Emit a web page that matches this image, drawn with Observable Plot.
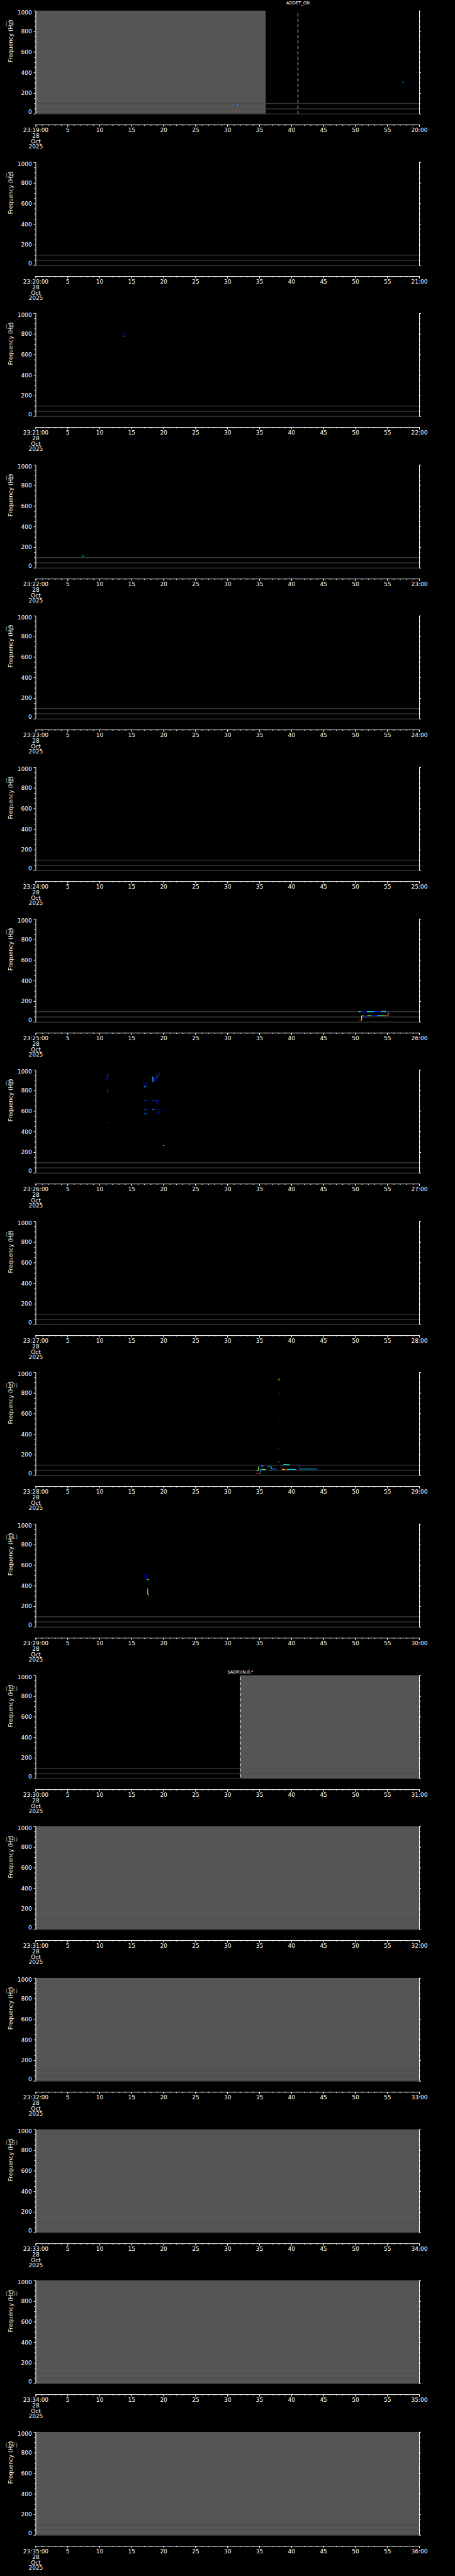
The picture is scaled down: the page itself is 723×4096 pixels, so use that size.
<!DOCTYPE html>
<html><head><meta charset="utf-8">
<script src="https://cdn.jsdelivr.net/npm/d3@7"></script>
<script src="https://cdn.jsdelivr.net/npm/@observablehq/plot@0.6"></script>
<style>
html,body{margin:0;padding:0;background:#000;}
#chart{width:723px;}
#chart svg{display:block;}
</style></head><body><div id="chart"></div>
<script>
// ---------- data ----------
const startLabels = ["23:19:00","23:20:00","23:21:00","23:22:00","23:23:00","23:24:00","23:25:00","23:26:00","23:27:00","23:28:00","23:29:00","23:30:00","23:31:00","23:32:00","23:33:00","23:34:00","23:35:00"];
const endLabels = ["20:00","21:00","22:00","23:00","24:00","25:00","26:00","27:00","28:00","29:00","30:00","31:00","32:00","33:00","34:00","35:00","36:00"];
const secTicks = [5,10,15,20,25,30,35,40,45,50,55];
const secTickLabels = ["5","10","15","20","25","30","35","40","45","50","55"];
const dateLines = ["28","Oct","2025"];
const freqTicks = [0,200,400,600,800,1000];
const freqTickLabels = ["0","200","400","600","800","1000"];
const freqMinor = [50,100,150,250,300,350,450,500,550,650,700,750,850,900,950];
const refLines = [0,50,100];
const shaded = [
  {panel:1, t1:0, t2:36},
  {panel:12, t1:32, t2:60},
  {panel:13, t1:0, t2:60},
  {panel:14, t1:0, t2:60},
  {panel:15, t1:0, t2:60},
  {panel:16, t1:0, t2:60},
  {panel:17, t1:0, t2:60}
];
const events = [
  {panel:1, t:41, label:"ADDET_ON"},
  {panel:12, t:32, label:"$ADRUN,0,*"}
];
// trace segments: [t1 (s), f1 (Hz), t2 (s), f2 (Hz), intensity 0..1]
const trace1 = [
  [31.2,95,32.0,95,0.15],[31.45,95,31.75,95,0.4],
  [57.3,311,57.5,311,0.4],[57.45,311,57.65,290,0.15]
];
const trace3 = [
  [13.6,776,13.8,776,0.3],[13.8,776,13.8,813,0.15]
];
const trace4 = [
  [7.2,116,7.5,116,0.33],[7.33,116,7.33,110,0.33]
];
const trace7 = [
  [50.45,101,50.8,101,0.4],[50.8,99,51.8,101,0.13],[51.8,101,52.95,100,0.4],
  [52.95,101,54.0,102,0.15],[54.0,103,54.71,106,0.42],[54.71,106,54.71,94,0.4],
  [54.71,94,55.4,94,0.13],
  [50.5,16,50.96,16,0.92],[50.96,16,50.96,61,0.62],[50.96,61,51.35,61,0.55],
  [51.35,57,51.82,55,0.15],[51.82,63,52.51,63,0.5],[52.51,63,53.44,63,0.15],
  [53.44,63,54.48,63,0.45],[54.48,63,54.82,63,0.75],[54.82,61,55.05,61,0.4],
  [55.12,63,55.12,94,0.72]
];
const trace8 = [
  [11.17,941,11.1,906,0.15],[11.2,953,11.35,953,0.4],
  [11.27,841,11.27,787,0.15],[11.1,795,11.27,787,0.2],
  [11.1,491,11.38,491,0.15],
  [16.91,884,16.91,838,0.1],[16.91,838,17.23,838,0.35],[17.23,838,17.23,867,0.15],[17.23,867,17.4,867,0.15],
  [18.14,930,18.32,930,0.45],[18.32,930,18.32,884,0.4],
  [18.5,927,18.5,889,0.12],[18.6,922,18.6,889,0.12],[18.78,927,18.78,889,0.12],
  [18.78,927,19.01,927,0.2],[19.01,927,19.01,966,0.2],
  [19.32,946,19.32,977,0.15],[19.32,977,19.5,977,0.15],
  [16.91,702,17.4,702,0.2],[18.18,702,18.92,702,0.2],[18.92,702,18.92,675,0.12],
  [18.92,675,19.01,675,0.12],[19.01,675,19.01,702,0.12],[19.01,702,19.5,702,0.15],
  [16.91,620,17.4,620,0.25],[16.91,577,17.4,577,0.2],
  [18.18,616,18.5,620,0.35],[18.5,620,19.01,620,0.15],[19.01,620,19.01,577,0.12],
  [19.01,577,19.38,577,0.12],[19.38,577,19.38,616,0.12],[19.38,616,19.5,616,0.15],
  [19.85,267,20.12,267,0.3]
];
const trace10 = [
  [37.95,924,38.1,941,0.62],[37.95,790,38.1,805,0.95],[38.0,651,38.05,666,0.12],
  [37.95,522,38.1,532,0.95],[37.95,392,38.1,399,0.95],[37.95,261,38.1,261,0.88],
  [37.95,132,38.1,132,0.55],
  [34.4,20,35.12,20,0.85],[35.12,20,35.12,60,0.3],[35.12,60,35.4,60,0.3],
  [35.4,60,35.97,60,0.5],[35.97,53,36.2,53,0.15],
  [34.54,49,34.82,52,0.55],[34.82,52,34.82,85,0.55],[34.82,89,35.74,95,0.15],
  [35.3,92,35.5,92,0.6],
  [36.2,85,36.85,85,0.35],[36.85,85,36.85,60,0.3],[36.85,63,37.66,63,0.25],
  [38.4,99,38.7,97,0.2],[38.7,106,39.67,106,0.4],
  [38.45,63,38.9,58,0.65],[38.9,56,39.3,56,0.8],[39.3,60,40.72,60,0.35],
  [40.76,102,41.18,102,0.2],[41.18,102,41.18,63,0.15],[41.18,63,43.95,63,0.3]
];
const trace11 = [
  [17.3,523,17.3,460,0.1],[17.3,460,17.5,460,0.4],[17.5,460,17.7,460,0.62],
  [17.5,377,17.5,317,0.4],[17.5,317,17.7,317,0.62]
];
const tracesByPanel = {1: trace1, 3: trace3, 4: trace4, 7: trace7, 8: trace8, 10: trace10, 11: trace11};
const jetStops = [0, 0.125, 0.375, 0.625, 0.875, 1];
const jetColors = ["#00008f", "#0000ff", "#00ffff", "#ffff00", "#ff0000", "#800000"];

// ---------- layout (0.705 of the reference) ----------
const S = 0.705;
const W = 723;
const panelH = 341.3 * S;
const mt = 24 * S;
const plotH = 232.3 * S;
const mb = panelH - mt - plotH;
const ml = 80 * S;
const mr = W - 944.7 * S;
const axisOff = (281 - 256.3) * S;
const labOff = (297.7 - 256.3) * S;
const dateOff = [(310.3 - 256.3) * S, (322.3 - 256.3) * S, (333.7 - 256.3) * S];
const eventStyle = {
  "ADDET_ON": {labelDy: -17.7 * S, lineInset: 6 * S},
  "$ADRUN,0,*": {labelDy: -8 * S, lineInset: 2.7 * S}
};
const secAll = d3.range(0, 61, 1);
const secMajor = d3.range(0, 61, 5);
const yLab = {textAnchor: "end", frameAnchor: "left", dx: -6.3, fill: "white"};

const chart = document.getElementById("chart");
startLabels.forEach((start, i) => {
  const k = i + 1;
  const shade = shaded.filter(d => d.panel === k);
  const ev = events.filter(d => d.panel === k);
  const segs = tracesByPanel[k] || [];
  const svg = Plot.plot({
    width: W, height: panelH,
    marginTop: mt, marginBottom: mb, marginLeft: ml, marginRight: mr,
    style: {background: "black", color: "white", fontFamily: "DejaVu Sans, sans-serif", fontSize: "9px"},
    x: {domain: [0, 60], axis: null},
    y: {domain: [0, 1000], axis: null},
    color: {type: "linear", domain: jetStops, range: jetColors},
    marks: [
      Plot.rect(shade, {x1: "t1", x2: "t2", y1: 0, y2: 1000, fill: "#555555"}),
      Plot.ruleY(refLines, {stroke: "#4a4a4a", strokeWidth: 1}),
      Plot.link(segs, {x1: d => d[0], y1: d => d[1], x2: d => d[2], y2: d => d[3], stroke: d => d[4], strokeWidth: 1.1}),
      ...ev.map(e => Plot.ruleX([e], {x: "t", y1: 1000, y2: 0, insetTop: eventStyle[e.label].lineInset, stroke: "white", strokeWidth: 1, strokeDasharray: "5.3,3.3"})),
      ...ev.map(e => Plot.text([e], {x: "t", y: 1000, text: "label", dy: eventStyle[e.label].labelDy, fontSize: 6.8, fill: "white"})),
      // left & right frequency axes
      Plot.ruleX([0], {stroke: "white", strokeWidth: 1}),
      Plot.ruleX([60], {stroke: "white", strokeWidth: 1}),
      Plot.ruleY(freqMinor, {x1: 0, x2: 0, insetLeft: -2, stroke: "white"}),
      Plot.ruleY(freqTicks, {x1: 0, x2: 0, insetLeft: -3, stroke: "white"}),
      Plot.ruleY(freqMinor, {x1: 60, x2: 60, insetRight: -2, stroke: "white"}),
      Plot.ruleY(freqTicks, {x1: 60, x2: 60, insetRight: -3, stroke: "white"}),
      Plot.text(freqTicks.slice(1, -1), {...yLab, y: d => d, text: (d, j) => freqTickLabels[j + 1]}),
      Plot.text(freqTicks.slice(-1), {...yLab, y: d => d, text: () => freqTickLabels[5], dy: 2.5}),
      Plot.text(freqTicks.slice(0, 1), {...yLab, y: d => d, text: () => freqTickLabels[0], dy: -3}),
      Plot.text(["Frequency (Hz)"], {frameAnchor: "left", dx: -(ml - 16.3), rotate: -90, fill: "white"}),
      Plot.text([`(${k})`], {frameAnchor: "top-left", dx: -(ml - 8.2), dy: 16.4, textAnchor: "start", fill: "#a0a0a0", fontSize: 9.5}),
      // time axis below the panel
      Plot.ruleY([0], {x1: 0, x2: 60, dy: axisOff, stroke: "white"}),
      Plot.ruleX(secAll, {x: d => d, y1: 0, y2: 0, insetBottom: -1.9, dy: axisOff, stroke: "white"}),
      Plot.ruleX(secMajor, {x: d => d, y1: 0, y2: 0, insetBottom: -3.7, dy: axisOff, stroke: "white"}),
      Plot.text(secTicks, {x: d => d, frameAnchor: "bottom", dy: labOff, text: (d, j) => secTickLabels[j], fill: "white"}),
      Plot.text([start], {x: 0, frameAnchor: "bottom", dy: labOff, fill: "white"}),
      Plot.text([endLabels[i]], {x: 60, frameAnchor: "bottom", dy: labOff, fill: "white"}),
      ...dateLines.map((t, j) => Plot.text([t], {x: 0, frameAnchor: "bottom", dy: dateOff[j], fill: "white"}))
    ]
  });
  chart.appendChild(svg);
});
</script>
</body></html>
